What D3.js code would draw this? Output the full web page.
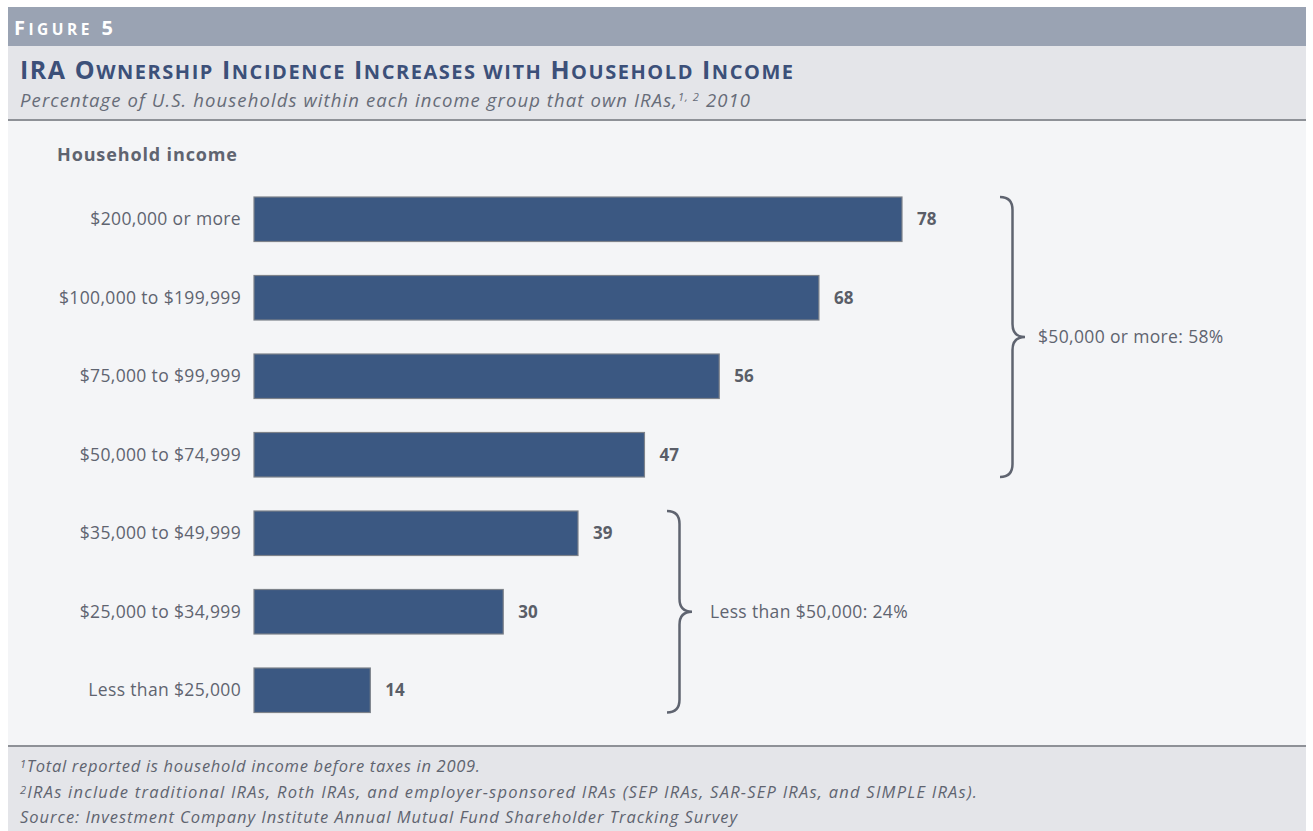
<!DOCTYPE html>
<html>
<head>
<meta charset="utf-8">
<script src="https://cdn.jsdelivr.net/npm/d3@7"></script>
<style>
  body { margin: 0; background: #ffffff; }
  svg text { font-family: "Open Sans", "Lato", sans-serif; }
</style>
</head>
<body>
<script>
// chart data
var categories = ["$200,000 or more", "$100,000 to $199,999", "$75,000 to $99,999",
  "$50,000 to $74,999", "$35,000 to $49,999", "$25,000 to $34,999", "Less than $25,000"];
var values = [78, 68, 56, 47, 39, 30, 14];
var groupLabels = ["$50,000 or more: 58%", "Less than $50,000: 24%"];
var groupRanges = [[0, 3], [4, 6]];
var footnotes = ["Total reported is household income before taxes in 2009.",
  "IRAs include traditional IRAs, Roth IRAs, and employer-sponsored IRAs (SEP IRAs, SAR-SEP IRAs, and SIMPLE IRAs).",
  "Source: Investment Company Institute Annual Mutual Fund Shareholder Tracking Survey"];

var svgWidth = 1313;
var svgHeight = 831;

var svg = d3.select("body")
  .append("svg")
  .attr("width", svgWidth)
  .attr("height", svgHeight);

// panels
var left = 8, right = 1306;
svg.append("rect").attr("x", left).attr("y", 7).attr("width", right - left).attr("height", 39).attr("fill", "#9aa3b3");
svg.append("rect").attr("x", left).attr("y", 46).attr("width", right - left).attr("height", 73).attr("fill", "#e4e5e9");
svg.append("rect").attr("x", left).attr("y", 119).attr("width", right - left).attr("height", 2).attr("fill", "#8e9197");
svg.append("rect").attr("x", left).attr("y", 121).attr("width", right - left).attr("height", 624).attr("fill", "#f4f5f7");
svg.append("rect").attr("x", left).attr("y", 745).attr("width", right - left).attr("height", 2).attr("fill", "#8e9197");
svg.append("rect").attr("x", left).attr("y", 747).attr("width", right - left).attr("height", 84).attr("fill", "#e4e5e9");

// fake small caps: capital letters big, the rest upper-cased smaller
function smallCaps(sel, str, big, small) {
  str.split(" ").forEach(function (w, i) {
    var pre = i > 0 ? " " : "";
    var chunks = w.match(/[A-Z0-9]+|[^A-Z0-9]+/g);
    chunks.forEach(function (c, j) {
      var isBig = /^[A-Z0-9]+$/.test(c);
      sel.append("tspan")
        .style("font-size", (isBig ? big : small) + "px")
        .text((j === 0 ? pre : "") + c.toUpperCase());
    });
  });
}

var fig = svg.append("text")
  .attr("x", 14).attr("y", 35)
  .attr("textLength", 99).attr("lengthAdjust", "spacing")
  .style("font-weight", "bold").style("fill", "#ffffff");
smallCaps(fig, "Figure 5", 20, 15.5);

var title = svg.append("text")
  .attr("x", 20).attr("y", 79)
  .attr("textLength", 773).attr("lengthAdjust", "spacing")
  .style("font-weight", "bold").style("fill", "#3c5079");
smallCaps(title, "IRA Ownership Incidence Increases with Household Income", 25, 20);

var sub = svg.append("text")
  .attr("x", 20).attr("y", 107)
  .attr("textLength", 730).attr("lengthAdjust", "spacing")
  .style("font-size", "18.5px").style("font-style", "italic")
  .style("fill", "#676c78");
sub.append("tspan").text("Percentage of U.S. households within each income group that own IRAs,");
sub.append("tspan").attr("dy", -6).style("font-size", "11px").text("1, 2");
sub.append("tspan").attr("dy", 6).text(" 2010");

svg.append("text")
  .attr("x", 57).attr("y", 161)
  .attr("textLength", 180).attr("lengthAdjust", "spacing")
  .style("font-size", "18px").style("font-weight", "bold")
  .style("fill", "#5f6470")
  .text("Household income");

// scales
var xScale = d3.scaleLinear()
  .domain([0, 78])
  .range([254, 902]);

var yScale = d3.scaleBand()
  .domain(categories)
  .range([180, 729.5])
  .paddingInner(0.433)
  .paddingOuter(0.2165);

var data = categories.map(function (c, i) { return {cat: c, val: values[i]}; });

var chartGroup = svg.append("g");

chartGroup.selectAll("rect.bar")
  .data(data)
  .enter()
  .append("rect")
  .attr("class", "bar")
  .attr("x", xScale(0))
  .attr("y", d => yScale(d.cat))
  .attr("width", d => xScale(d.val) - xScale(0))
  .attr("height", yScale.bandwidth())
  .attr("fill", "#3b5882")
  .attr("stroke", "#7d828a")
  .attr("stroke-width", 1.2);

// category labels
chartGroup.selectAll("text.cat")
  .data(data)
  .enter()
  .append("text")
  .attr("class", "cat")
  .attr("x", xScale(0) - 13)
  .attr("y", d => yScale(d.cat) + yScale.bandwidth() / 2)
  .attr("dy", "0.35em")
  .style("text-anchor", "end")
  .style("font-size", "17.5px")
  .style("letter-spacing", "0.35px")
  .style("fill", "#5f6470")
  .text(d => d.cat);

// value labels
chartGroup.selectAll("text.val")
  .data(data)
  .enter()
  .append("text")
  .attr("class", "val")
  .attr("x", d => xScale(d.val) + 15)
  .attr("y", d => yScale(d.cat) + yScale.bandwidth() / 2)
  .attr("dy", "0.35em")
  .style("font-size", "17px").style("font-weight", "bold")
  .style("fill", "#5a5e68")
  .text(d => d.val);

// braces
function bracePath(x, y0, y1, w) {
  var ym = (y0 + y1) / 2;
  var xv = x + w * 0.5;
  var r = 13;
  return "M" + x + "," + y0 +
    " Q" + xv + "," + y0 + " " + xv + "," + (y0 + r) +
    " L" + xv + "," + (ym - r) +
    " Q" + xv + "," + ym + " " + (x + w) + "," + ym +
    " Q" + xv + "," + ym + " " + xv + "," + (ym + r) +
    " L" + xv + "," + (y1 - r) +
    " Q" + xv + "," + y1 + " " + x + "," + y1;
}

var braceX = [1000, 667];
var labelOffset = [38, 43];
groupRanges.forEach(function (g, i) {
  var y0 = yScale(categories[g[0]]);
  var y1 = yScale(categories[g[1]]) + yScale.bandwidth();
  chartGroup.append("path")
    .attr("d", bracePath(braceX[i], y0, y1, 25))
    .attr("fill", "none")
    .attr("stroke", "#5f6470")
    .attr("stroke-width", 2.5);
  chartGroup.append("text")
    .attr("x", braceX[i] + labelOffset[i])
    .attr("y", (y0 + y1) / 2)
    .attr("dy", "0.35em")
    .style("font-size", "17.5px")
    .style("letter-spacing", "0.35px")
    .style("fill", "#5f6470")
    .text(groupLabels[i]);
});

// footnotes
var footWidths = [460, 957, 717];
footnotes.forEach(function (f, i) {
  var t = svg.append("text")
    .attr("x", 20).attr("y", 772 + i * 25.5)
    .attr("textLength", footWidths[i]).attr("lengthAdjust", "spacing")
    .style("font-size", "16.5px").style("font-style", "italic")
    .style("fill", "#5f6470");
  if (i < 2) {
    t.append("tspan").attr("dy", -4).style("font-size", "11px").text(i + 1);
    t.append("tspan").attr("dy", 4).text(f);
  } else {
    t.text(f);
  }
});
</script>
</body>
</html>
